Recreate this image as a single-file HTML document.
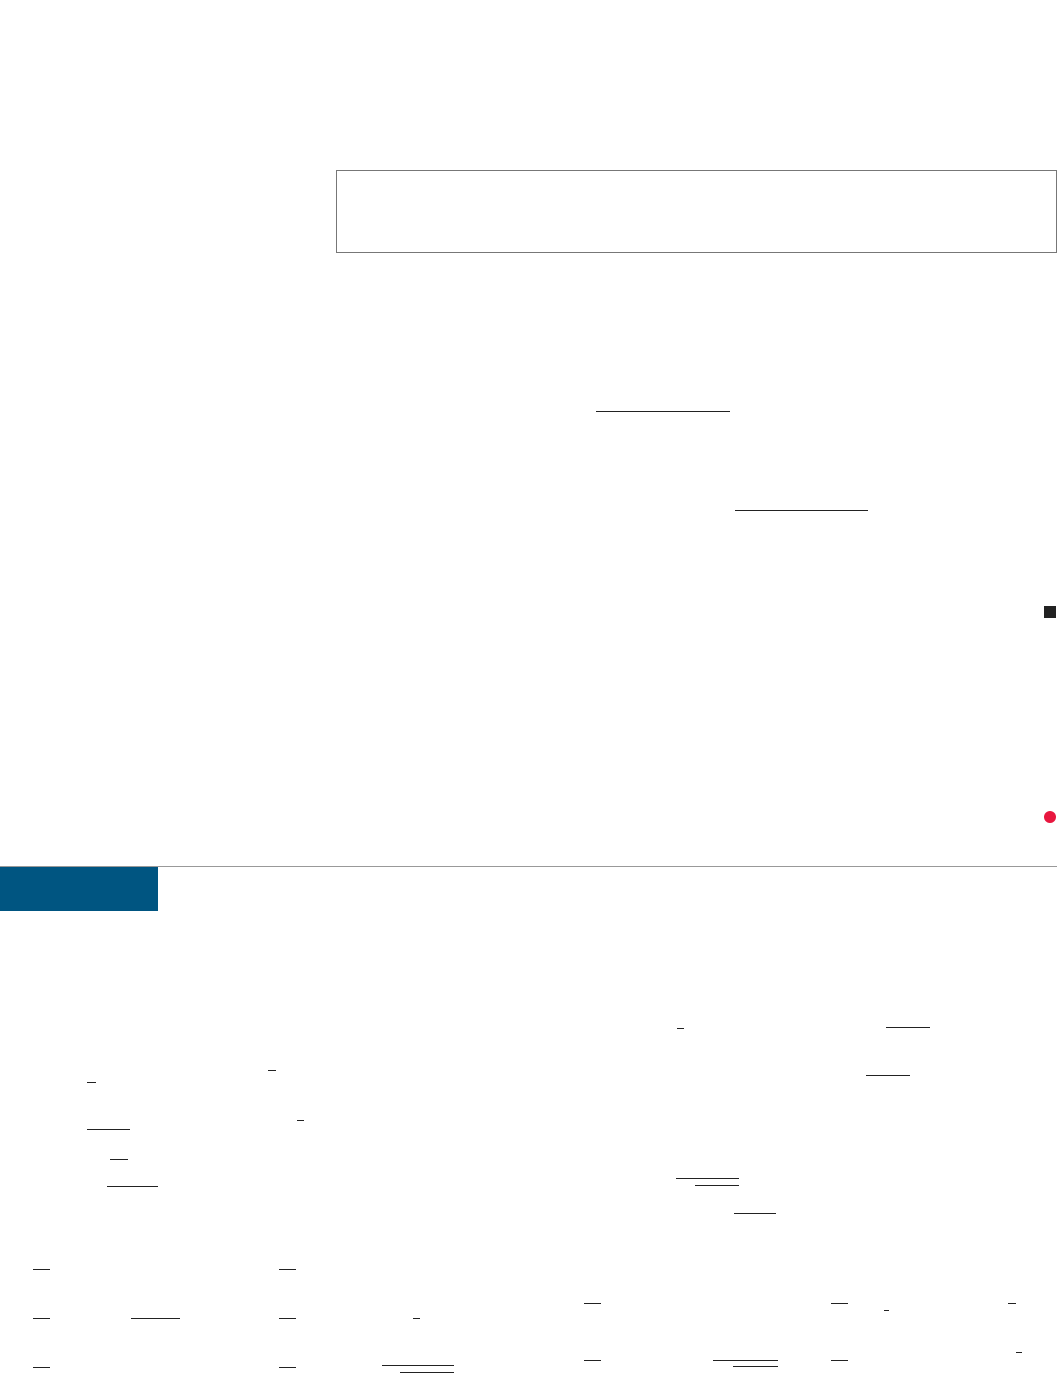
<!DOCTYPE html>
<html><head><meta charset="utf-8"><style>
html,body{margin:0;padding:0;background:#fff;}
body{width:1057px;height:1374px;position:relative;overflow:hidden;font-family:"Liberation Serif",serif;}
.a{position:absolute;}
.ln{position:absolute;height:1px;background:#222;}
</style></head><body>
<div class="a" style="left:336px;top:170px;width:719px;height:81px;border:1px solid #777;"></div>
<div class="ln" style="left:596px;top:411px;width:134px;"></div>
<div class="ln" style="left:735px;top:510px;width:133px;"></div>
<div class="a" style="left:1044px;top:606px;width:12px;height:12px;background:#222;"></div>
<div class="a" style="left:1044px;top:811px;width:12px;height:12px;border-radius:50%;background:#e8173f;"></div>
<div class="a" style="left:0;top:866px;width:1057px;height:1px;background:#999;"></div>
<div class="a" style="left:0;top:867px;width:158px;height:44px;background:#005581;"></div>
<div id="bars"></div>
<script>
const bars=[[677,684,1028],[886,930,1027],[87,96,1082],[268,276,1070],[866,910,1075],[87,130,1129],[297,304,1120],[110,128,1159],[107,158,1186],[676,739,1178],[695,739,1185],[734,776,1213],[33,50,1269],[279,296,1269],[33,50,1318],[131,180,1318],[279,296,1318],[413,420,1318],[584,601,1303],[831,848,1303],[884,889,1310],[1008,1016,1303],[33,50,1367],[279,296,1367],[382,454,1365],[400,454,1372],[584,601,1360],[713,778,1360],[733,778,1366],[831,848,1360],[1016,1022,1352]];
const c=document.getElementById('bars');
bars.forEach(b=>{const d=document.createElement('div');d.className='ln';


d.style.left=b[0]+'px';d.style.top=b[2]+'px';d.style.width=(b[1]-b[0])+'px';c.appendChild(d);});
</script>
</body></html>
